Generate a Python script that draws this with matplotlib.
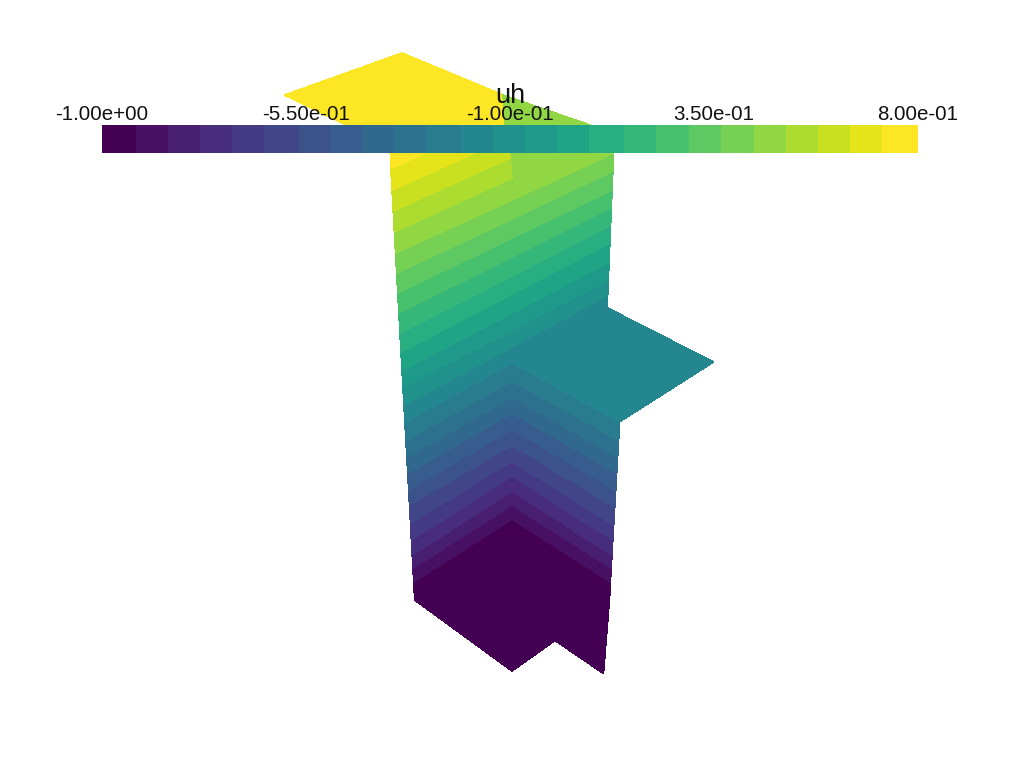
import numpy as np
import matplotlib
matplotlib.use("Agg")
import matplotlib.pyplot as plt
import matplotlib.tri as mtri
from matplotlib.colors import ListedColormap, BoundaryNorm

plt.rcParams['font.family'] = ['Liberation Sans', 'DejaVu Sans']

# Scalar range and bands
title = "uh"
u_min, u_max = -1.0, 0.8
n_bands = 25
tick_values = [-1.0, -0.55, -0.1, 0.35, 0.8]
tick_labels = ["-1.00e+00", "-5.50e-01", "-1.00e-01", "3.50e-01", "8.00e-01"]
bar_edges_px = [102, 137, 169, 201, 233, 265, 300, 332, 363, 395, 427, 462, 494,
                526, 558, 590, 625, 657, 690, 722, 755, 787, 819, 851, 883, 918]

# Screen height at which each band boundary (1..24) crosses the mesh columns
left_y = [582, 568, 555, 540, 523, 505, 490, 473, 457, 440, 422, 405,
          387, 370, 352, 333, 313, 293, 273, 253, 232, 211, 190, 168]
center_y = [519, 505, 491, 476, 461, 445, 429, 413, 397, 381, 363, 347,
            330, 313, 294, 276, 257, 238, 219, 200, 178, 158, 138, 119]
center_x_top = [512, 510, 508, 506]       # boundaries 21..24 bend with the sheet edge
right_y_low = [582, 568, 555, 540, 525, 507, 490, 473, 457, 440, 421.7]   # boundaries 1..11
right_y_up = [295, 280, 262, 243, 225, 207, 190, 171, 153]                # boundaries 12..20

# Outline of the mesh
left_edge_y, left_edge_x = [153, 600], [390, 414.7]
right_up_y, right_up_x = [137, 295], [614.3, 607.7]
right_low_y, right_low_x = [421.7, 582], [619.7, 610.4]
bottom_x = [414.7, 512, 555, 603.5, 609.6]
bottom_y = [600, 671, 640.5, 673.5, 598]
wing_x = [607.7, 713.5]
wing_y = [308, 362]
top_left_x = [402, 284.5, 397, 507, 503]
top_left_y = [53, 95, 150, 150, 95]
top_right_x = [503, 590, 614.3, 507]
top_right_y = [95, 125, 137, 150]

W, H = 1024, 768
levels = np.linspace(u_min, u_max, n_bands + 1)
cmap = ListedColormap(plt.get_cmap("viridis")(np.linspace(0, 1, n_bands)))
shift = levels - 1e-6
shift[-1] = u_max + 1e-3
norm = BoundaryNorm(shift, n_bands)

fig = plt.figure(figsize=(W / 100, H / 100), dpi=100, facecolor="white")
ax = fig.add_axes([0, 0, 1, 1])
ax.set_xlim(0, W)
ax.set_ylim(H, 0)
ax.axis("off")


def draw(xs, ys, zs, tris, z):
    t = mtri.Triangulation(np.asarray(xs, float), np.asarray(ys, float), tris)
    cs = ax.tricontourf(t, np.asarray(zs, float), levels=shift, cmap=cmap, norm=norm, zorder=z)
    cs.set_edgecolor("face")
    cs.set_linewidth(0.4)
    return cs


def strip(n):
    out = []
    for i in range(n - 1):
        a, b, c, d = 2 * i, 2 * i + 1, 2 * i + 2, 2 * i + 3
        out += [[a, b, c], [b, d, c]]
    return out


lx = lambda y: np.interp(y, left_edge_y, left_edge_x)
rup = lambda y: np.interp(y, right_up_y, right_up_x)
rlow = lambda y: np.interp(y, right_low_y, right_low_x)

# ---- right sheet: upper strip (boundaries 12..20, flat above)
xs, ys, zs = [], [], []
for k, yr in enumerate(right_y_up):
    xs += [512, rup(yr)]
    ys += [center_y[11 + k], yr]
    zs += [levels[12 + k]] * 2
xs += [505, rup(137)]
ys += [140, 137]
zs += [levels[20] + 0.036] * 2
draw(xs, ys, zs, strip(len(right_y_up) + 1), 2)

# ---- right sheet: lower strip (boundaries 1..11)
xs, ys, zs = [], [], []
for k, yr in enumerate(right_y_low):
    xs += [512, rlow(yr)]
    ys += [center_y[k], yr]
    zs += [levels[k + 1]] * 2
draw(xs, ys, zs, strip(len(right_y_low)), 2)

# ---- flat wing between boundaries 11 and 12
mid = 0.5 * (levels[11] + levels[12])
xs = [wing_x[0], rup(right_y_up[0]), 512, 512, right_low_x[0], wing_x[1]]
ys = [wing_y[0], right_y_up[0], center_y[11], center_y[10], right_low_y[0], wing_y[1]]
zs = [mid, levels[12], levels[12], levels[11], levels[11], mid]
draw(xs, ys, zs, [[0, 1, 2], [0, 2, 3], [0, 3, 4], [0, 4, 5]], 2)

# ---- left sheet
xs, ys, zs = [], [], []
for k, (yl, yc) in enumerate(zip(left_y, center_y)):
    xc = center_x_top[k - 20] if k >= 20 else 512
    xs += [lx(yl), xc]
    ys += [yl, yc]
    zs += [levels[k + 1]] * 2
xs += [lx(146), 505]
ys += [146, 100]
zs += [u_max] * 2
draw(xs, ys, zs, strip(len(left_y) + 1), 3)

# ---- flat foot below boundary 1
xs = [512, lx(left_y[0])] + bottom_x + [rlow(right_y_low[0])]
ys = [center_y[0], left_y[0]] + bottom_y + [right_y_low[0]]
zs = [levels[1], levels[1]] + [u_min] * 5 + [levels[1]]
n = len(xs)
draw(xs, ys, zs, [[0, i, i + 1] for i in range(1, n - 1)], 3)

# ---- flat top pieces
n = len(top_left_x)
draw(top_left_x, top_left_y, [u_max] * n, [[0, i, i + 1] for i in range(1, n - 1)], 4)
n = len(top_right_x)
draw(top_right_x, top_right_y, [levels[20] + 0.036] * n, [[0, i, i + 1] for i in range(1, n - 1)], 4)

# ---- scalar bar
bar_l, bar_r, bar_t, bar_b = 102, 918, 125, 153
cax = fig.add_axes([bar_l / W, 1 - bar_b / H, (bar_r - bar_l) / W, (bar_b - bar_t) / H])
cax.set_xlim(u_min, u_max)
cax.set_ylim(0, 1)
cax.axis("off")
edges = u_min + (np.array(bar_edges_px, float) - bar_l) / (bar_r - bar_l) * (u_max - u_min)
cax.pcolormesh(edges, [0, 1], np.arange(n_bands).reshape(1, -1), cmap=cmap,
               vmin=-0.5, vmax=n_bands - 0.5, edgecolors="face", linewidth=0.2)
for v, s in zip(tick_values, tick_labels):
    cax.text(v, 1 + 5 / (bar_b - bar_t), s, ha="center", va="baseline", fontsize=14.8,
             color="#111111", clip_on=False)
cax.text(0.5 * (u_min + u_max) + 0.0, 1 + 22 / (bar_b - bar_t), title, ha="center", va="baseline",
         fontsize=19.5, color="#111111", clip_on=False)

fig.savefig("out.png", dpi=100, facecolor="white")
